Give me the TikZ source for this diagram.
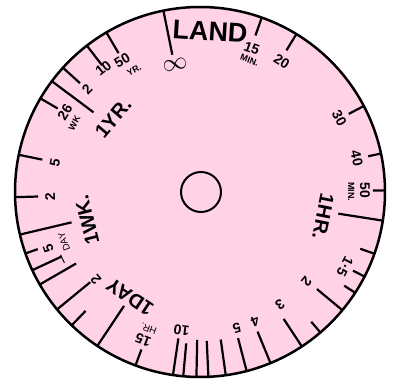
\documentclass[tikz,border=0pt]{standalone}
\usepackage{fontspec}
\setmainfont{Liberation Sans}
\usetikzlibrary{positioning}
\definecolor{DialPink}{RGB}{255,210,230}

\tikzset{
  tick/.style={line width=2.2pt},
  biglabel/.style={inner sep=0pt, font=\bfseries\fontsize{20}{20}\selectfont},
  numlabel/.style={inner sep=0pt, font=\bfseries\fontsize{14}{14}\selectfont},
  unitlabel/.style={inner sep=0pt, font=\bfseries\fontsize{9}{9}\selectfont},
  thinunit/.style={inner sep=0pt, font=\fontsize{9.5}{9.5}\selectfont}
}

\begin{document}
\begin{tikzpicture}[x=1pt, y=1pt]
    \useasboundingbox (-200,-188) rectangle (199,192);

    % Dial
    \fill[DialPink] (0,0) circle (185);
    \draw[line width=2.5pt] (0,0) circle (185);
    \node[draw, circle, line width=2pt, minimum size=40pt, inner sep=0pt] (hub) at (1,0) {};

    % Ticks, minutes and hours
    \draw[tick] (101.4:185) -- (101.4:140);
    \draw[tick] (70.5:185) -- (70.5:166);
    \draw[tick] (58.6:185) -- (58.6:166);
    \draw[tick] (27.7:185) -- (27.7:168);
    \draw[tick] (12.0:185) -- (12.0:172);
    \draw[tick] (0.5:185) -- (0.5:173);
    \draw[tick] (-8.9:185) -- (-8.9:140);
    \draw[tick] (-19.5:185) -- (-19.5:170);
    \draw[tick] (-27.2:185) -- (-27.2:172);
    \draw[tick] (-33.0:185) -- (-33.0:172);
    \draw[tick] (-39.7:185) -- (-39.7:152);
    \draw[tick] (-49.4:185) -- (-49.4:171);
    \draw[tick] (-56.6:185) -- (-56.6:152);
    \draw[tick] (-67.6:185) -- (-67.6:151);
    \draw[tick] (-75.4:185) -- (-75.4:151);
    \draw[tick] (-82.0:185) -- (-82.0:149);
    \draw[tick] (-87.4:185) -- (-87.4:149);
    \draw[tick] (-91.1:185) -- (-91.1:148);
    \draw[tick] (-95.2:185) -- (-95.2:152);
    \draw[tick] (-98.4:185) -- (-98.4:148);

    % Ticks, days, weeks and years
    \draw[tick] (-110.4:185) -- (-110.4:168);
    \draw[tick] (-123.7:185) -- (-123.7:137);
    \draw[tick] (-133.9:185) -- (-133.9:165);
    \draw[tick] (-140.6:185) -- (-140.6:142);
    \draw[tick] (-150.0:185) -- (-150.0:143);
    \draw[tick] (-155.0:185) -- (-155.0:153);
    \draw[tick] (-160.6:185) -- (-160.6:172);
    \draw[tick] (-166.7:185) -- (-166.7:132);
    \draw[tick] (181.6:185) -- (181.6:162);
    \draw[tick] (168.4:185) -- (168.4:161);
    \draw[tick] (149.6:185) -- (149.6:165);
    \draw[tick] (143.2:185) -- (143.2:133);
    \draw[tick] (137.8:185) -- (137.8:162);
    \draw[tick] (127.7:185) -- (127.7:160);
    \draw[tick] (120.4:185) -- (120.4:161);
    \draw[line width=1pt] (204.3:153) -- (207.6:153);

    % Big labels
    \node[inner sep=0pt, font=\bfseries\fontsize{27}{27}\selectfont, rotate=-3.6] (land) at (86.4:161) {LAND};
    \node[biglabel, rotate=258.7] (hour) at (348.7:125.7) {1HR.};
    \node[biglabel, rotate=146.2] (day) at (236.2:126) {1DAY};
    \node[biglabel, rotate=103.9] (week) at (193.9:116.4) {1WK.};
    \node[biglabel, rotate=49.6] (year) at (139.6:114) {1YR.};
    \node[inner sep=0pt, font=\fontsize{24}{24}\selectfont, rotate=11.1] (inf) at (101.1:129.4) {$\infty$};

    % Minutes
    \node[numlabel, rotate=-19.8] (min15) at (70.2:152.7) {15};
    \node[unitlabel, rotate=-20.6] (minA) at (69.4:140.8) {MIN.};
    \node[numlabel, rotate=-32.1] (min20) at (57.9:153.8) {20};
    \node[numlabel, rotate=-62.1] (min30) at (27.9:157.6) {30};
    \node[numlabel, rotate=-77.9] (min40) at (12.1:160.3) {40};
    \node[numlabel, rotate=-89.3] (min50) at (0.7:165) {50};
    \node[unitlabel, rotate=-89.9] (minB) at (0.1:151.2) {MIN.};

    % Hours
    \node[numlabel, rotate=242.7] (hr15) at (332.7:163.1) {1·5};
    \node[numlabel, rotate=229.9] (hr2) at (319.9:139.4) {2};
    \node[numlabel, rotate=215.3] (hr3) at (305.3:138.5) {3};
    \node[numlabel, rotate=203] (hr4) at (293:140.9) {4};
    \node[numlabel, rotate=195.1] (hr5) at (285.1:141.2) {5};
    \node[numlabel, rotate=172.4] (hr10) at (262.4:139.2) {10};
    \node[numlabel, rotate=159] (hrC) at (249:158.5) {15};
    \node[thinunit, rotate=159.4] (hrunit) at (249.4:146.2) {HR.};

    % Days and weeks
    \node[numlabel, rotate=130] (day2) at (220:136) {2};
    \node[numlabel, rotate=110.4] (day5) at (200.4:161.8) {5};
    \node[thinunit, rotate=110.1] (dayunit) at (200.1:144.8) {DAY};
    \node[numlabel, rotate=91.9] (wk2) at (181.9:150) {2};
    \node[numlabel, rotate=78.7] (wk5) at (168.7:148) {5};
    \node[numlabel, rotate=59.3] (wk26) at (149.3:157) {26};
    \node[unitlabel, rotate=61.3] (wkunit) at (151.3:143.2) {WK};

    % Years
    \node[numlabel, rotate=47.6] (yr2) at (137.6:153) {2};
    \node[numlabel, rotate=38] (yr10) at (128:157) {10};
    \node[numlabel, rotate=30.6] (yr50) at (120.6:153) {50};
    \node[unitlabel, rotate=28.4] (yrunit) at (118.4:138.5) {YR.};
  \end{tikzpicture}
\end{document}
